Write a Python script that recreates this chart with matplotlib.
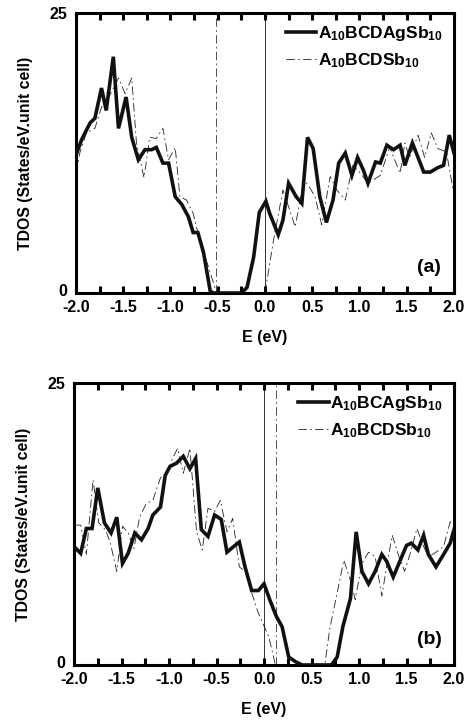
import matplotlib
matplotlib.use("Agg")
import matplotlib.pyplot as plt
from matplotlib.ticker import MultipleLocator, FixedLocator
import matplotlib.transforms as mtransforms

plt.rcParams['font.family'] = ['Liberation Sans', 'DejaVu Sans']
plt.rcParams['font.weight'] = 'bold'
plt.rcParams['mathtext.fontset'] = 'custom'
plt.rcParams['mathtext.rm'] = 'Liberation Sans:bold'
plt.rcParams['mathtext.it'] = 'Liberation Sans:bold'
plt.rcParams['mathtext.bf'] = 'Liberation Sans:bold'

# ---------------- data: panel (a) ----------------
E_a_ag = [-2.0, -1.94, -1.85, -1.80, -1.73, -1.68, -1.605, -1.55, -1.47, -1.41,
          -1.34, -1.27, -1.20, -1.15, -1.08, -1.02, -0.95, -0.88, -0.81, -0.76,
          -0.71, -0.65, -0.58, -0.55, -0.25, -0.19, -0.12, -0.06, 0.01, 0.05,
          0.14, 0.19, 0.25, 0.33, 0.39, 0.45, 0.51, 0.58, 0.65, 0.72,
          0.78, 0.85, 0.92, 0.98, 1.04, 1.09, 1.17, 1.22, 1.29, 1.36,
          1.43, 1.48, 1.56, 1.68, 1.75, 1.83, 1.89, 1.95, 2.0]
D_a_ag = [12.3, 13.7, 15.2, 15.6, 18.3, 16.3, 21.1, 14.7, 17.5, 13.9,
          11.9, 12.8, 12.8, 13.0, 11.6, 11.6, 8.6, 7.9, 6.8, 5.4,
          5.4, 3.6, 0.2, 0.0, 0.0, 0.5, 3.2, 7.2, 8.2, 7.1,
          5.2, 6.5, 9.8, 8.6, 8.0, 13.9, 12.9, 8.6, 6.3, 8.3,
          11.6, 12.5, 10.5, 12.1, 11.0, 9.8, 11.7, 11.6, 13.2, 12.8,
          13.2, 11.4, 13.4, 10.8, 10.8, 11.2, 11.4, 14.1, 12.5]

E_a_ref = [-2.0, -1.96, -1.89, -1.80, -1.73, -1.64, -1.55, -1.48, -1.41, -1.36,
           -1.28, -1.22, -1.15, -1.08, -1.02, -0.95, -0.90, -0.83, -0.76, -0.69,
           -0.62, -0.53, -0.50, 0.0, 0.09, 0.19, 0.25, 0.32, 0.41, 0.46,
           0.53, 0.60, 0.69, 0.76, 0.85, 0.93, 1.0, 1.09, 1.22, 1.32,
           1.43, 1.48, 1.53, 1.62, 1.69, 1.76, 1.83, 1.92, 2.0]
D_a_ref = [10.7, 12.5, 14.3, 14.7, 16.6, 17.7, 19.2, 17.8, 19.2, 13.4,
           10.3, 13.9, 13.8, 14.7, 11.9, 13.0, 8.6, 8.3, 7.1, 4.7,
           2.9, 0.5, 0.0, 0.0, 4.7, 9.2, 7.7, 5.9, 10.1, 9.6,
           8.6, 6.1, 10.4, 9.2, 8.3, 11.4, 10.8, 9.8, 10.5, 13.0,
           10.7, 13.4, 12.1, 14.1, 12.1, 14.3, 12.9, 12.6, 8.8]

# ---------------- data: panel (b) ----------------
E_b_ag = [-2.0, -1.93, -1.87, -1.81, -1.75, -1.68, -1.61, -1.55, -1.49, -1.43,
          -1.36, -1.29, -1.22, -1.17, -1.09, -1.04, -0.99, -0.92, -0.85, -0.78,
          -0.72, -0.66, -0.59, -0.52, -0.45, -0.39, -0.32, -0.26, -0.20, -0.13,
          -0.06, 0.0, 0.06, 0.13, 0.19, 0.26, 0.33, 0.40, 0.71, 0.77,
          0.83, 0.91, 0.97, 1.03, 1.10, 1.17, 1.24, 1.29, 1.36, 1.43,
          1.50, 1.55, 1.62, 1.68, 1.73, 1.81, 1.89, 1.96, 2.0]
D_b_ag = [10.5, 9.9, 12.1, 12.1, 15.7, 12.6, 11.7, 13.1, 9.0, 9.9,
          11.7, 11.1, 12.1, 13.3, 14.0, 16.8, 17.6, 17.9, 18.5, 17.4,
          18.3, 12.0, 11.4, 13.3, 12.9, 10.0, 10.5, 10.9, 8.7, 6.6,
          6.6, 7.2, 5.8, 4.3, 3.4, 0.7, 0.3, 0.0, 0.0, 0.7,
          3.4, 5.9, 11.8, 8.3, 7.2, 8.3, 9.8, 9.2, 7.8, 9.2,
          10.6, 10.8, 10.2, 11.5, 9.8, 8.7, 9.8, 10.8, 12.0]

E_b_ref = [-2.0, -1.93, -1.87, -1.80, -1.74, -1.67, -1.62, -1.55, -1.49, -1.43,
           -1.37, -1.31, -1.24, -1.17, -1.09, -1.02, -0.97, -0.91, -0.85, -0.78,
           -0.71, -0.65, -0.59, -0.52, -0.46, -0.39, -0.33, -0.26, -0.20, -0.13,
           -0.06, 0.05, 0.12, 0.64, 0.69, 0.77, 0.84, 0.91, 0.96, 1.03,
           1.10, 1.17, 1.24, 1.29, 1.35, 1.42, 1.48, 1.55, 1.61, 1.68,
           1.73, 1.81, 1.89, 1.96, 2.0]
D_b_ref = [12.4, 12.4, 9.8, 16.4, 12.6, 12.0, 10.9, 8.3, 12.3, 11.7,
           10.3, 13.1, 14.3, 14.6, 16.6, 17.0, 18.2, 19.2, 17.0, 19.2,
           11.8, 10.2, 13.9, 13.6, 14.6, 11.8, 13.0, 8.7, 8.3, 6.4,
           4.6, 2.5, 0.0, 0.0, 3.1, 6.4, 9.3, 7.5, 5.8, 9.0,
           10.0, 9.6, 6.1, 8.7, 11.5, 9.6, 8.3, 10.2, 12.1, 10.5,
           9.6, 10.0, 10.5, 12.7, 12.4]

label_a_ag = r'$\mathregular{A_{10}BCDAgSb_{10}}$'
label_b_ag = r'$\mathregular{A_{10}BCAgSb_{10}}$'
label_ref = r'$\mathregular{A_{10}BCDSb_{10}}$'
vline_solid = 0.0
vline_a_dash = -0.52
vline_b_dash = 0.13
xtick_labels = ['-2.0', '-1.5', '-1.0', '-0.5', '0.0', '0.5', '1.0', '1.5', '2.0']
xtick_major = [-2.0, -1.5, -1.0, -0.5, 0.0, 0.5, 1.0, 1.5, 2.0]

fig = plt.figure(figsize=(4.67, 7.21), dpi=100)
ax1 = fig.add_axes([0.1627, 0.5936, 0.8094, 0.3883])
ax2 = fig.add_axes([0.1585, 0.0777, 0.8137, 0.3911])

DASH = (10, 4, 2, 4)

def style(ax, E_ag, D_ag, E_ref, D_ref, lab_ag, vdash, tag):
    ax.plot(E_ag, D_ag, color='#111111', lw=2.6, solid_joinstyle='miter', label=lab_ag, zorder=3)
    l, = ax.plot(E_ref, D_ref, color='#222222', lw=0.6, label=label_ref, zorder=2)
    l.set_dashes(DASH)
    ax.axvline(vline_solid, color='#333333', lw=0.7, zorder=1)
    v = ax.axvline(vdash, color='#333333', lw=0.6, zorder=1)
    v.set_dashes(DASH)
    ax.set_xlim(-2.0, 2.0)
    ax.set_ylim(0, 25)
    ax.xaxis.set_major_locator(FixedLocator(xtick_major))
    ax.set_xticklabels(xtick_labels)
    ax.xaxis.set_minor_locator(MultipleLocator(0.25))
    ax.set_yticks([0, 25])
    ax.set_yticklabels(['0', '25'])
    ax.tick_params(axis='x', which='both', direction='in', top=True, bottom=True,
                   length=5, width=2.2, labelsize=11.5, pad=5)
    ax.tick_params(axis='y', which='both', length=0, labelsize=11.5, pad=6)
    for lab in ax.get_xticklabels() + ax.get_yticklabels():
        lab.set_fontweight('bold')
    zero = ax.get_yticklabels()[0]
    zero.set_transform(zero.get_transform() +
                       mtransforms.ScaledTranslation(0, 2.5 / 72, fig.dpi_scale_trans))
    for sp in ax.spines.values():
        sp.set_linewidth(2.2)
    ax.set_xlabel('E (eV)', fontsize=11.5, fontweight='bold', labelpad=11)
    ax.set_ylabel('TDOS (States/eV.unit cell)', fontsize=11.4, fontweight='bold', labelpad=12)
    ax.legend(loc='upper right', bbox_to_anchor=(1.0, 1.0), frameon=False,
              fontsize=12.5, handlelength=1.75, handletextpad=0.1,
              labelspacing=0.45, borderaxespad=0.25)
    ax.text(0.935, 0.09, tag, transform=ax.transAxes, fontsize=14, fontweight='bold',
            ha='center', va='center')

style(ax1, E_a_ag, D_a_ag, E_a_ref, D_a_ref, label_a_ag, vline_a_dash, '(a)')
style(ax2, E_b_ag, D_b_ag, E_b_ref, D_b_ref, label_b_ag, vline_b_dash, '(b)')

fig.savefig('out.png', dpi=100)
